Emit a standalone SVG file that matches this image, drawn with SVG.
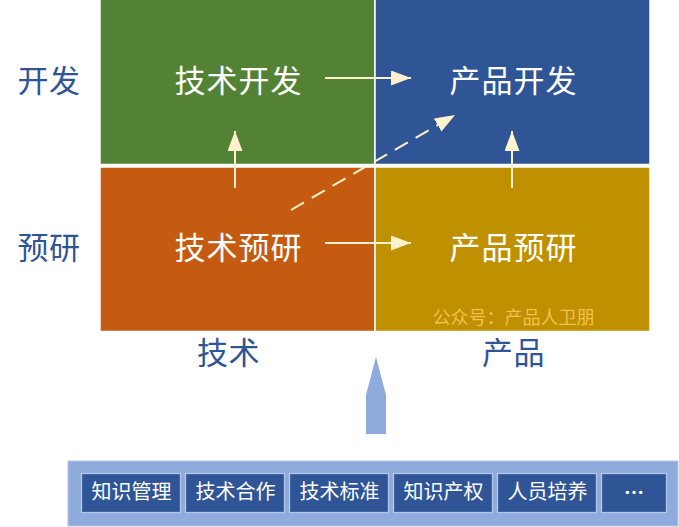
<svg xmlns="http://www.w3.org/2000/svg" width="679" height="527" viewBox="0 0 679 527">
<style>
text{font-family:"Noto Sans CJK SC","Liberation Sans",sans-serif;text-anchor:middle}
.q{stroke:#fff;stroke-width:1.5}
.t{font-size:31px;fill:#fff;letter-spacing:1px}
.a{font-size:31px;fill:#2f5597;letter-spacing:0.5px}
.c{stroke:#fff2cc;stroke-width:2;fill:none}
.i{fill:#2f5597;stroke:#b4c7e7;stroke-width:1.3}
.l{font-size:20px;fill:#fff}
</style>
<defs><marker id="h" markerUnits="userSpaceOnUse" markerWidth="22" markerHeight="16" refX="20" refY="7.5" orient="auto"><path d="M0 0L20 7.5L0 15Z" fill="#fff2cc"/></marker></defs>
<g id="q-tech-dev"><rect class="q" x="100" y="-1" width="275" height="165.500" fill="#548235"/><text class="t" x="238.500" y="92">技术开发</text></g>
<g id="q-prod-dev"><rect class="q" x="375" y="-1" width="275" height="165.500" fill="#2f5597"/><text class="t" x="513.500" y="92">产品开发</text></g>
<g id="q-tech-pre"><rect class="q" x="100" y="167" width="275" height="164.500" fill="#c55a11"/><text class="t" x="238.500" y="259">技术预研</text></g>
<g id="q-prod-pre"><rect class="q" x="375" y="167" width="275" height="164.500" fill="#bf9000"/><text class="t" x="513.500" y="259">产品预研</text><text x="513.500" y="323.500" font-size="18px" fill="#f4c04e">公众号：产品人卫朋</text></g>
<g id="axis-labels"><text class="a" x="49" y="92">开发</text><text class="a" x="49" y="259">预研</text><text class="a" x="228.500" y="363.500">技术</text><text class="a" x="513.500" y="363.500">产品</text></g>
<g id="connectors">
<path class="c" d="M325 78H411" marker-end="url(#h)"/>
<path class="c" d="M325 243H411" marker-end="url(#h)"/>
<path class="c" d="M235 188V131" marker-end="url(#h)"/>
<path class="c" d="M512 188V131" marker-end="url(#h)"/>
<path class="c" d="M291 210L455 115" stroke-dasharray="15 9" marker-end="url(#h)"/>
</g>
<g id="up-arrow"><path d="M376 357L386 395V434H366V395Z" fill="#8faadc"/></g>
<g id="base">
<rect x="68" y="461" width="610" height="65" fill="#8faadc" stroke="#b4c7e7"/>
<g id="n1"><rect class="i" x="81.500" y="473.500" width="99" height="39"/><text class="l" x="131.500" y="499">知识管理</text></g>
<g id="n2"><rect class="i" x="185.500" y="473.500" width="99" height="39"/><text class="l" x="235.500" y="499">技术合作</text></g>
<g id="n3"><rect class="i" x="289.500" y="473.500" width="99" height="39"/><text class="l" x="339.500" y="499">技术标准</text></g>
<g id="n4"><rect class="i" x="393.500" y="473.500" width="99" height="39"/><text class="l" x="443.500" y="499">知识产权</text></g>
<g id="n5"><rect class="i" x="497.500" y="473.500" width="99" height="39"/><text class="l" x="547.500" y="499">人员培养</text></g>
<g id="n6"><rect class="i" x="601.500" y="473.500" width="65" height="39"/><text class="l" x="634" y="499.500" font-weight="bold">…</text></g>
</g>
</svg>
